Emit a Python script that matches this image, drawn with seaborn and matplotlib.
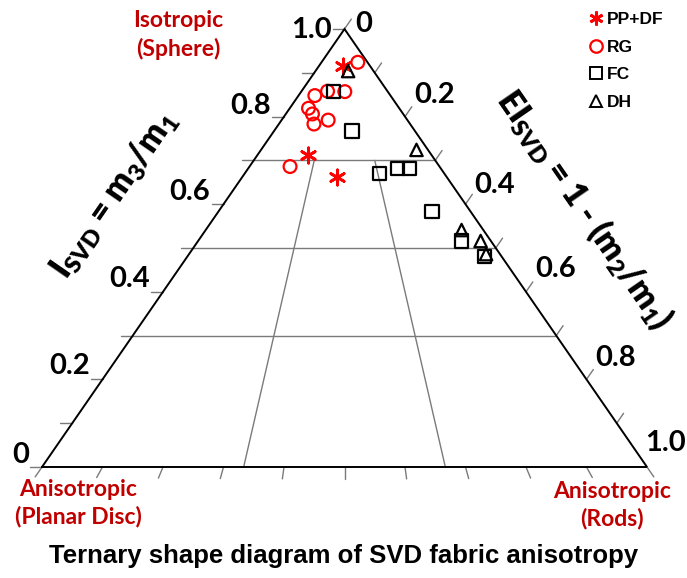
import numpy as np
import pandas as pd
import matplotlib
matplotlib.use("Agg")
import matplotlib.pyplot as plt
from matplotlib.lines import Line2D
import seaborn as sns

sns.set_theme(style="white")
plt.rcParams["font.family"] = ["Lato", "DejaVu Sans"]
plt.rcParams["mathtext.default"] = "regular"
plt.rcParams["text.color"] = "black"

# Fabric shape per sample: isotropy I = m3/m1 and elongation EI = 1 - m2/m1
pp_df_I = [0.916, 0.712, 0.663]
pp_df_EI = [0.040, 0.084, 0.156]
rg_I = [0.924, 0.858, 0.857, 0.848, 0.819, 0.806, 0.783, 0.792, 0.686]
rg_EI = [0.060, 0.043, 0.072, 0.027, 0.031, 0.044, 0.058, 0.077, 0.067]
fc_I = [0.857, 0.767, 0.671, 0.682, 0.682, 0.583, 0.516, 0.480]
fc_EI = [0.053, 0.129, 0.222, 0.247, 0.267, 0.353, 0.436, 0.492]
dh_I = [0.904, 0.724, 0.541, 0.516, 0.486]
dh_EI = [0.054, 0.257, 0.423, 0.467, 0.491]

groups = ["PP+DF", "RG", "FC", "DH"]
grid_I = [0.3, 0.5, 0.7]            # horizontal isotropy boundaries
class_fracs = [1 / 3, 2 / 3]        # planar / elongate division lines
left_tick_vals = [round(0.1 * i, 1) for i in range(11)]
left_labels = ["0", "0.2", "0.4", "0.6", "0.8", "1.0"]
right_tick_vals = [round(0.1 * i, 1) for i in range(10)]
right_labels = ["0", "0.2", "0.4", "0.6", "0.8", "1.0"]
bottom_tick_vals = [round(0.1 * i, 1) for i in range(11)]

frames = []
for name, I, EI in [("PP+DF", pp_df_I, pp_df_EI), ("RG", rg_I, rg_EI),
                    ("FC", fc_I, fc_EI), ("DH", dh_I, dh_EI)]:
    frames.append(pd.DataFrame({"group": name, "I": I, "EI": EI}))
df = pd.concat(frames, ignore_index=True)
# ternary -> cartesian (planar disc at (0,0), rods at (1,0), sphere at (0.5,1))
df["x"] = df["EI"] + 0.5 * df["I"]
df["y"] = df["I"]

W, H = 687, 578
fig = plt.figure(figsize=(W / 100, H / 100), dpi=100)
L, R, T, B = 42, 647, 29, 467
ax = fig.add_axes([L / W, (H - B) / H, (R - L) / W, (B - T) / H])
ax.set_xlim(0, 1)
ax.set_ylim(0, 1)
ax.set_axis_off()
sx, sy = 1 / (R - L), 1 / (B - T)   # data units per pixel

GRID = "#7a7a7a"
RED = "#ff0000"
DARKRED = "#c00000"

# triangle outline
ax.plot([0, 1, 0.5, 0], [0, 0, 1, 0], color="black", lw=1.4,
        solid_joinstyle="miter", clip_on=False, zorder=3)

# isotropy boundaries
for g in grid_I:
    ax.plot([g / 2, 1 - g / 2], [g, g], color=GRID, lw=1.0, zorder=1)
# division lines converging on the isotropic apex
for f in class_fracs:
    top = max(grid_I)
    ax.plot([f, top / 2 + f * (1 - top)], [0, top], color=GRID, lw=1.0, zorder=1)

TICK = 12  # px
# left axis ticks (horizontal)
for v in left_tick_vals:
    ax.plot([v / 2 - TICK * sx, v / 2], [v, v], color=GRID, lw=1.0, clip_on=False)
# right axis ticks (parallel to the left edge)
d = np.array([0.5 * (R - L), (B - T)])
d = d / np.hypot(*d) * TICK
for e in right_tick_vals:
    x0, y0 = 0.5 + 0.5 * e, 1 - e
    ax.plot([x0, x0 + d[0] * sx], [y0, y0 + d[1] * sy], color=GRID, lw=1.0,
            clip_on=False)
# bottom ticks (pointing away from the apex)
for f in bottom_tick_vals:
    v = np.array([(f - 0.5) * (R - L), -(B - T)])
    v = v / np.hypot(*v) * TICK
    ax.plot([f, f + v[0] * sx], [0, v[1] * sy], color=GRID, lw=1.0, clip_on=False)

PT = 0.72  # points per pixel
tick_font = dict(fontsize=21, fontweight="bold", color="black")
# left tick labels
left_off = [(-1, 12), (-1, 13), (-1, 13), (-1, 12), (-1, 11), (-1, -1)]
for lab, (ox, oy) in zip(left_labels, left_off):
    v = float(lab)
    ax.annotate(lab, xy=(v / 2 - TICK * sx, v), xytext=(ox * PT, oy * PT),
                textcoords="offset points", ha="right", va="center",
                annotation_clip=False, **tick_font)
# right tick labels
right_off = [(4, -5), (2, 12), (2, 9), (2, 13), (2, 12), (-9, 14)]
for lab, (ox, oy) in zip(right_labels, right_off):
    e = float(lab)
    x0 = 0.5 + 0.5 * e + d[0] * sx
    y0 = 1 - e + d[1] * sy
    ax.annotate(lab, xy=(x0, y0), xytext=(ox * PT, oy * PT),
                textcoords="offset points", ha="left", va="center",
                annotation_clip=False, **tick_font)

# samples
style = {
    "PP+DF": dict(marker=(6, 2, 0), s=120, color=RED, linewidth=2.0),
    "RG": dict(marker="o", s=85, facecolor="none", edgecolor=RED, linewidth=1.6),
    "FC": dict(marker="s", s=90, facecolor="none", edgecolor="black", linewidth=1.6),
    "DH": dict(marker="^", s=80, facecolor="none", edgecolor="black", linewidth=1.6),
}
for g in groups:
    sns.scatterplot(data=df[df["group"] == g], x="x", y="y", ax=ax, legend=False,
                    clip_on=False, zorder=4, **style[g])
ax.set_axis_off()

# legend
handles = [
    Line2D([], [], ls="", marker=(6, 2, 0), color=RED, markersize=10, mew=2.0),
    Line2D([], [], ls="", marker="o", mfc="none", mec=RED, markersize=9, mew=1.6),
    Line2D([], [], ls="", marker="s", mfc="none", mec="black", markersize=8.5, mew=1.4),
    Line2D([], [], ls="", marker="^", mfc="none", mec="black", markersize=9, mew=1.4),
]
leg = ax.legend(handles, groups, loc="upper left", bbox_to_anchor=(588 / W, 1 - 12 / H),
                bbox_transform=fig.transFigure, frameon=False, handlelength=0.9,
                handletextpad=0.2, labelspacing=0.72, borderpad=0, borderaxespad=0,
                prop=dict(family="Liberation Sans", weight="bold", size=12.5))
for t in leg.get_texts():
    t.set_color("black")

def ftext(px, py, s, **kw):
    fig.text(px / W, 1 - py / H, s, **kw)

# axis titles
ang = np.degrees(np.arctan2(B - T, 0.5 * (R - L)))
ftext(114, 194, r"I$_{SVD}$ = m$_3$/m$_1$", fontsize=24, fontweight="heavy",
      color="black", rotation=ang, ha="center", va="center", rotation_mode="anchor")
ftext(585, 209, r"EI$_{SVD}$ = 1 - (m$_2$/m$_1$)", fontsize=24, fontweight="heavy",
      color="black", rotation=-ang, ha="center", va="center", rotation_mode="anchor")

# corner descriptions
corner_font = dict(fontsize=16.5, fontweight="bold", color=DARKRED, ha="center",
                   va="center", linespacing=1.35)
ftext(178, 35, "Isotropic\n(Sphere)", **corner_font)
ftext(78, 503, "Anisotropic\n(Planar Disc)", **corner_font)
ftext(612, 505, "Anisotropic\n(Rods)", **corner_font)

ftext(344, 556, "Ternary shape diagram of SVD fabric anisotropy", fontsize=18.5,
      fontweight="bold", family="Liberation Sans", color="black",
      ha="center", va="center")

fig.savefig("out.png", dpi=100)
